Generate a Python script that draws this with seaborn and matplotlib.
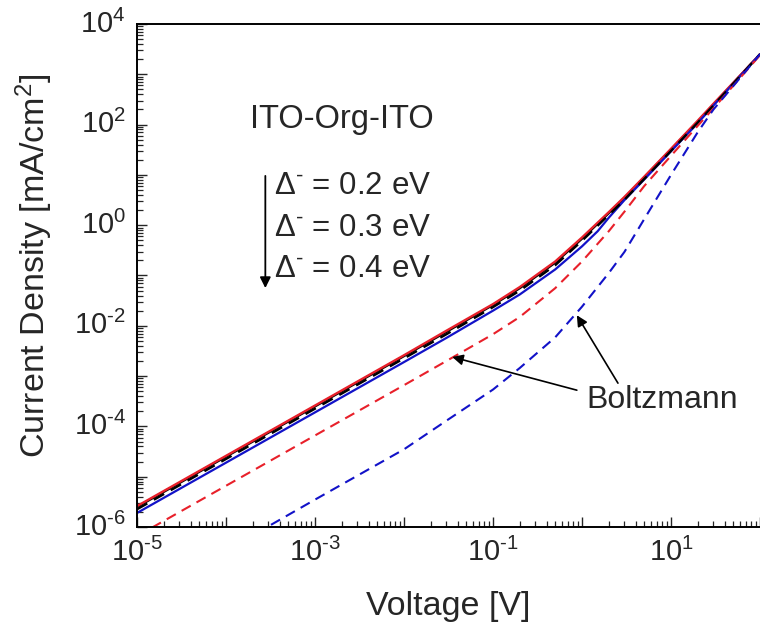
import numpy as np
import pandas as pd
import matplotlib
matplotlib.use("Agg")
import matplotlib.pyplot as plt
import matplotlib.ticker as mticker
import seaborn as sns

# ---------------- data ----------------
v_main = [1e-5, 1e-4, 1e-3, 1e-2, 3e-2, 1e-1, 2e-1, 5e-1, 1.0, 2.0, 3.0, 5.0, 10.0, 20.0, 30.0, 100.0]

j_black_solid = [2.5e-6, 2.5e-5, 2.5e-4, 2.5e-3, 7.6e-3, 2.6e-2, 5.6e-2, 1.8e-1, 5.4e-1,
                 1.74, 3.5, 8.9, 32.0, 1.15e2, 2.5e2, 2.5e3]
j_red_solid   = [2.6e-6, 2.6e-5, 2.6e-4, 2.6e-3, 8.0e-3, 2.7e-2, 5.9e-2, 1.9e-1, 5.7e-1,
                 1.82, 3.65, 9.2, 33.0, 1.2e2, 2.6e2, 2.5e3]
j_black_dash  = [2.25e-6, 2.25e-5, 2.25e-4, 2.25e-3, 6.8e-3, 2.35e-2, 5.0e-2, 1.6e-1, 4.9e-1,
                 1.6, 3.2, 8.3, 30.0, 1.1e2, 2.4e2, 2.5e3]

v_blue_solid  = [1e-5, 1e-4, 1e-3, 1e-2, 3e-2, 1e-1, 2e-1, 5e-1, 1.0, 1.5, 2.0, 3.0, 5.0,
                 10.0, 20.0, 30.0, 100.0]
j_blue_solid  = [1.9e-6, 1.9e-5, 1.9e-4, 1.9e-3, 5.75e-3, 2.0e-2, 4.2e-2, 1.32e-1, 3.8e-1,
                 7.6e-1, 1.41, 3.16, 8.1, 29.5, 1.07e2, 2.4e2, 2.5e3]

j_red_dash    = [6.6e-7, 6.6e-6, 6.6e-5, 6.6e-4, 2.0e-3, 6.8e-3, 1.5e-2, 5.6e-2, 1.9e-1,
                 7.6e-1, 1.86, 6.0, 24.0, 95.0, 2.1e2, 2.4e3]
j_blue_dash   = [3.5e-8, 3.4e-7, 3.5e-6, 3.5e-5, 1.3e-4, 5.4e-4, 1.45e-3, 5.9e-3, 2.4e-2,
                 1.12e-1, 2.95e-1, 1.32, 10.0, 71.0, 2.0e2, 2.5e3]

x_ticks = [1e-5, 1e-3, 1e-1, 1e1]
x_tick_labels = ["$10^{\u20105}$", "$10^{\u20103}$", "$10^{\u20101}$", "$10^{1}$"]
y_ticks = [1e-6, 1e-4, 1e-2, 1e0, 1e2, 1e4]
y_tick_labels = ["$10^{\u20106}$", "$10^{\u20104}$", "$10^{\u20102}$", "$10^{0}$", "$10^{2}$", "$10^{4}$"]

delta_labels = ["$\\Delta^{\u2010}$ = 0.2 eV", "$\\Delta^{\u2010}$ = 0.3 eV", "$\\Delta^{\u2010}$ = 0.4 eV"]

# ---------------- style ----------------
sns.set_style("ticks")
plt.rcParams["font.family"] = ["Liberation Sans", "DejaVu Sans"]
plt.rcParams["mathtext.fontset"] = "custom"
plt.rcParams["mathtext.rm"] = "Liberation Sans"
plt.rcParams["mathtext.it"] = "Liberation Sans:italic"
plt.rcParams["mathtext.bf"] = "Liberation Sans:bold"
plt.rcParams["mathtext.default"] = "regular"

RED = "#E8202A"
BLUE = "#1212C8"

fig = plt.figure(figsize=(7.6, 6.26), dpi=100)
ax = fig.add_axes([137 / 760, 99 / 626, 623 / 760, 503 / 626])
ax.set_xscale("log")
ax.set_yscale("log")

series = [
    (v_main, j_black_solid, "black", "-", 1.7),
    (v_main, j_red_solid, RED, "-", 1.7),
    (v_blue_solid, j_blue_solid, BLUE, "-", 1.6),
    (v_main, j_black_dash, "black", "--", 1.7),
    (v_main, j_red_dash, RED, "--", 1.5),
    (v_main, j_blue_dash, BLUE, "--", 1.5),
]
for vx, jy, col, ls, lw in series:
    df = pd.DataFrame({"V": vx, "J": jy})
    sns.lineplot(data=df, x="V", y="J", color=col, linestyle=ls, linewidth=lw,
                 estimator=None, sort=True, ax=ax, legend=False)
for line in ax.get_lines():
    if line.get_linestyle() == "--":
        line.set_dashes((5, 3.2))

ax.xaxis.set_major_locator(mticker.LogLocator(base=10, numticks=20))
ax.yaxis.set_major_locator(mticker.LogLocator(base=10, numticks=20))
ax.xaxis.set_minor_locator(mticker.LogLocator(base=10, subs=np.arange(2, 10), numticks=100))
ax.yaxis.set_minor_locator(mticker.LogLocator(base=10, subs=np.arange(2, 10), numticks=100))
for axis in (ax.xaxis, ax.yaxis):
    axis.set_major_formatter(mticker.NullFormatter())
    axis.set_minor_formatter(mticker.NullFormatter())
ax.set_xlim(1e-5, 1e2)
ax.set_ylim(1e-6, 1e4)

for t, lab in zip(x_ticks, x_tick_labels):
    ax.annotate(lab, xy=(t, 0), xycoords=("data", "axes fraction"),
                xytext=(0, -8), textcoords="offset points",
                ha="center", va="top", fontsize=21)
for t, lab in zip(y_ticks, y_tick_labels):
    ax.annotate(lab, xy=(0, t), xycoords=("axes fraction", "data"),
                xytext=(-8, 0), textcoords="offset points",
                ha="right", va="center", fontsize=21)

ax.tick_params(axis="both", which="major", direction="in", length=7.5, width=1.0,
               top=False, right=False)
ax.tick_params(axis="both", which="minor", direction="in", length=4, width=0.9,
               top=False, right=False)

for s in ["left", "bottom", "top"]:
    ax.spines[s].set_linewidth(1.4)
    ax.spines[s].set_color("black")
ax.spines["right"].set_visible(False)

ax.set_xlabel("Voltage [V]", fontsize=24.5)
ax.set_ylabel("Current Density [mA/cm$^2$]", fontsize=24.5)
ax.xaxis.set_label_coords(0.5, -0.128)
ax.yaxis.set_label_coords(-0.132, 0.52)

# ---------------- annotations ----------------
ax.text(0.181, 0.811, "ITO-Org-ITO", transform=ax.transAxes, fontsize=23.5,
        ha="left", va="center")
for lab, yy in zip(delta_labels, [0.678, 0.594, 0.513]):
    ax.text(0.220, yy, lab, transform=ax.transAxes, fontsize=22.5,
            ha="left", va="center")
ax.annotate("", xy=(0.206, 0.475), xytext=(0.206, 0.698), xycoords="axes fraction",
            arrowprops=dict(arrowstyle="-|>", color="black", lw=1.3, mutation_scale=16,
                            shrinkA=0, shrinkB=0))

ax.text(0.722, 0.252, "Boltzmann", transform=ax.transAxes, fontsize=23,
        ha="left", va="center")
ax.annotate("", xy=(0.506, 0.338), xytext=(0.706, 0.272), xycoords="axes fraction",
            arrowprops=dict(arrowstyle="-|>", color="black", lw=1.2, mutation_scale=16,
                            shrinkA=0, shrinkB=0))
ax.annotate("", xy=(0.706, 0.421), xytext=(0.772, 0.286), xycoords="axes fraction",
            arrowprops=dict(arrowstyle="-|>", color="black", lw=1.2, mutation_scale=16,
                            shrinkA=0, shrinkB=0))

fig.savefig("out.png", dpi=100)
